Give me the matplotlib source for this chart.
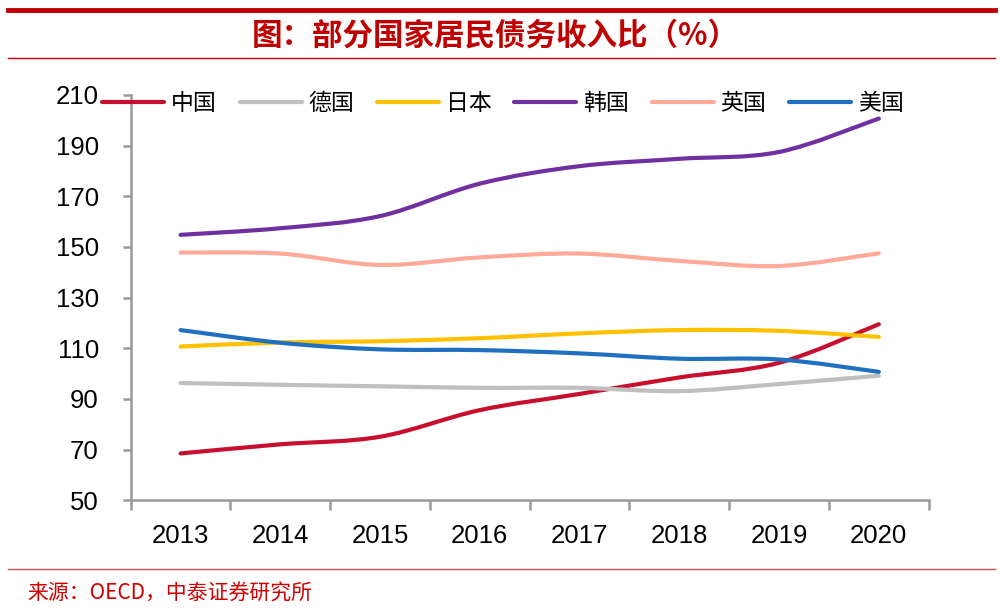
"""部分国家居民债务收入比 line chart"""

import matplotlib
matplotlib.use('Agg')
import matplotlib.pyplot as plt
from matplotlib.path import Path
from matplotlib.patches import PathPatch
from matplotlib.lines import Line2D

plt.rcParams['font.family'] = ['Liberation Sans', 'Noto Sans CJK SC', 'DejaVu Sans']

years = ['2013', '2014', '2015', '2016', '2017', '2018', '2019', '2020']
china = [68.5, 72.1, 75.1, 85.6, 92.0, 98.5, 104.3, 119.5]
germany = [96.3, 95.6, 95.0, 94.4, 94.4, 93.1, 95.9, 99.2]
japan = [110.7, 112.3, 112.8, 114.0, 115.9, 117.2, 116.9, 114.5]
korea = [154.8, 157.4, 162.2, 175.0, 181.9, 184.8, 187.5, 200.7]
uk = [147.8, 147.4, 142.9, 145.9, 147.4, 144.5, 142.5, 147.5]
us = [117.2, 112.2, 109.6, 109.3, 108.0, 105.9, 105.6, 100.7]

series = [
    ('中国', china, '#C8102E'),
    ('德国', germany, '#BFBFBF'),
    ('日本', japan, '#FFC000'),
    ('韩国', korea, '#7030A0'),
    ('英国', uk, '#FFA999'),
    ('美国', us, '#1F70C1'),
]


def smooth_path(xs, ys):
    # Excel-like smoothed line: Catmull-Rom segments as cubic Bezier curves
    pts = list(zip(xs, ys))
    verts = [pts[0]]
    codes = [Path.MOVETO]
    n = len(pts)
    for i in range(n - 1):
        p0 = pts[i - 1] if i > 0 else pts[i]
        p1 = pts[i]
        p2 = pts[i + 1]
        p3 = pts[i + 2] if i + 2 < n else pts[i + 1]
        c1 = (p1[0] + (p2[0] - p0[0]) / 6, p1[1] + (p2[1] - p0[1]) / 6)
        c2 = (p2[0] - (p3[0] - p1[0]) / 6, p2[1] - (p3[1] - p1[1]) / 6)
        verts += [c1, c2, p2]
        codes += [Path.CURVE4] * 3
    return Path(verts, codes)


fig = plt.figure(figsize=(10, 6.1), dpi=100)
ax = fig.add_axes([0.1307, 0.1798, 0.798, 0.6645])

x = list(range(len(years)))
handles = []
for name, vals, color in series:
    patch = PathPatch(smooth_path(x, vals), facecolor='none', edgecolor=color,
                      lw=3, capstyle='round', joinstyle='round')
    ax.add_patch(patch)
    handles.append(Line2D([], [], color=color, lw=3, solid_capstyle='round', label=name))

ax.set_xlim(-0.5, 7.5)
ax.set_ylim(50, 210)
ax.set_yticks(range(50, 211, 20))
ax.set_xticks(x)
ax.set_xticklabels(years)
ax.set_xticks([i - 0.5 for i in range(len(years) + 1)], minor=True)

for side in ['top', 'right']:
    ax.spines[side].set_visible(False)
for side in ['left', 'bottom']:
    ax.spines[side].set_color('#999999')
    ax.spines[side].set_linewidth(1.8)

ax.tick_params(axis='y', length=6, width=1.8, color='#999999', pad=17, labelsize=18.5)
ax.tick_params(axis='x', which='major', length=0, pad=17, labelsize=18.5)
ax.tick_params(axis='x', which='minor', length=7, width=1.8, color='#999999')

fig.legend(handles=handles, loc='center', bbox_to_anchor=(0.503, 0.831), ncol=6,
           frameon=False, handlelength=2.7, handletextpad=0.3, columnspacing=1.0,
           prop={'family': 'Noto Sans CJK SC', 'size': 16.5})

# header and footer decorations
fig.add_artist(Line2D([0.008, 0.995], [0.984, 0.984], color='#C00000', lw=3.5))
fig.add_artist(Line2D([0.008, 0.995], [0.905, 0.905], color='#C00000', lw=1))
fig.add_artist(Line2D([0.008, 0.995], [0.067, 0.067], color='#D05050', lw=1))

fig.text(0.495, 0.942, '图：部分国家居民债务收入比（%）', ha='center', va='center',
         color='#C00000', fontsize=22, fontweight='bold', family='Noto Sans CJK SC')
fig.text(0.027, 0.026, '来源：OECD，中泰证券研究所', ha='left', va='center',
         color='#D00000', fontsize=15, family=['Noto Sans CJK SC', 'DejaVu Sans'])

fig.savefig('out.png', dpi=100)
